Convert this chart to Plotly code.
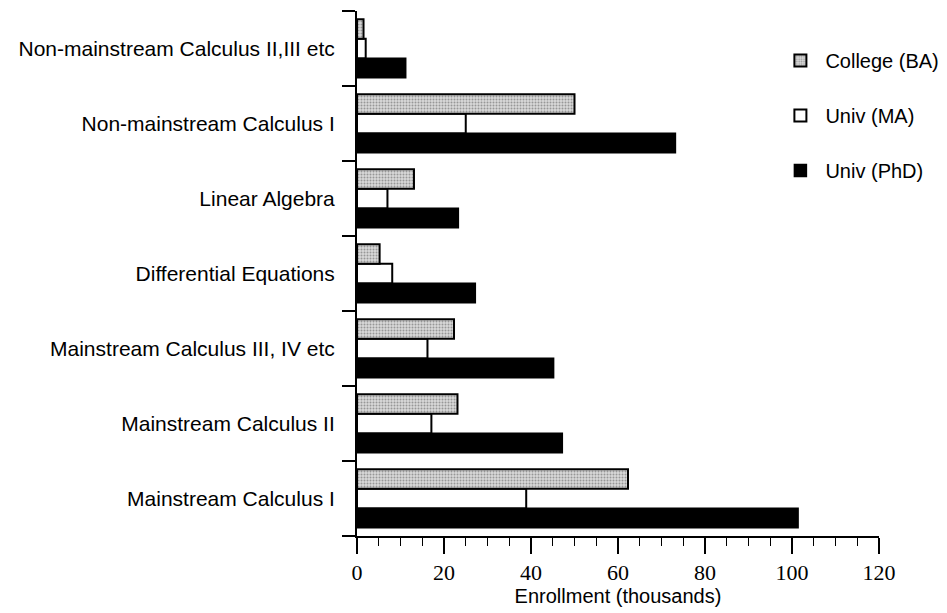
import plotly.graph_objects as go

categories = [
    "Mainstream Calculus I",
    "Mainstream Calculus II",
    "Mainstream Calculus III, IV etc",
    "Differential Equations",
    "Linear Algebra",
    "Non-mainstream Calculus I",
    "Non-mainstream Calculus II,III etc",
]
college_ba = [62.3, 23.1, 22.3, 5.2, 13.1, 50.0, 1.5]
univ_ma = [38.9, 17.1, 16.2, 8.1, 7.0, 25.0, 2.0]
univ_phd = [101.4, 47.2, 45.2, 27.2, 23.3, 73.2, 11.2]

x_ticks = [0, 20, 40, 60, 80, 100, 120]

SANS = "Liberation Sans, Arial, sans-serif"
SERIF = "Liberation Serif, Times New Roman, serif"

fig = go.Figure()
# traces added bottom-to-top within each group
fig.add_trace(go.Bar(
    y=categories, x=univ_phd, orientation="h", name="Univ (PhD)",
    marker=dict(color="black", line=dict(color="black", width=1.5)),
    legendgroup="phd", legendrank=3,
))
fig.add_trace(go.Bar(
    y=categories, x=univ_ma, orientation="h", name="Univ (MA)",
    marker=dict(color="white", line=dict(color="black", width=2)),
    legendgroup="ma", legendrank=2,
))
fig.add_trace(go.Bar(
    y=categories, x=college_ba, orientation="h", name="College (BA)",
    marker=dict(color="#bdbdbd", line=dict(color="black", width=2),
                pattern=dict(shape=".", fgcolor="#555555", bgcolor="#d8d8d8",
                             size=3, solidity=0.35)),
    legendgroup="ba", legendrank=1,
))

fig.update_layout(
    width=939, height=605,
    margin=dict(l=349, r=67, t=3, b=77),
    paper_bgcolor="white", plot_bgcolor="white",
    barmode="group", bargap=0.22, bargroupgap=0,
    font=dict(family=SANS, color="black", size=20),
    showlegend=True,
    legend=dict(x=0.80, y=0.943, xanchor="left", yanchor="top",
                traceorder="grouped", tracegroupgap=26, itemwidth=40,
                font=dict(size=20, family=SANS),
                bgcolor="rgba(0,0,0,0)"),
)
fig.update_xaxes(
    range=[0, 120], tickvals=x_ticks, ticktext=[str(v) for v in x_ticks],
    ticks="outside", ticklen=16, tickwidth=1.5, tickcolor="black",
    minor=dict(dtick=5, ticks="outside", ticklen=8, tickwidth=1, tickcolor="black"),
    showline=True, linecolor="black", linewidth=2,
    showgrid=False, zeroline=False,
    tickfont=dict(family=SERIF, size=22),
    title=dict(text="Enrollment (thousands)", standoff=4,
               font=dict(family=SANS, size=20)),
)
fig.update_yaxes(
    categoryorder="array", categoryarray=categories,
    tickson="boundaries", ticks="outside", ticklen=13, tickwidth=1.5, tickcolor="black",
    ticklabelstandoff=16,
    showline=True, linecolor="black", linewidth=2,
    showgrid=False, zeroline=False,
    tickfont=dict(family=SANS, size=21),
)

fig.write_html("out.html")
